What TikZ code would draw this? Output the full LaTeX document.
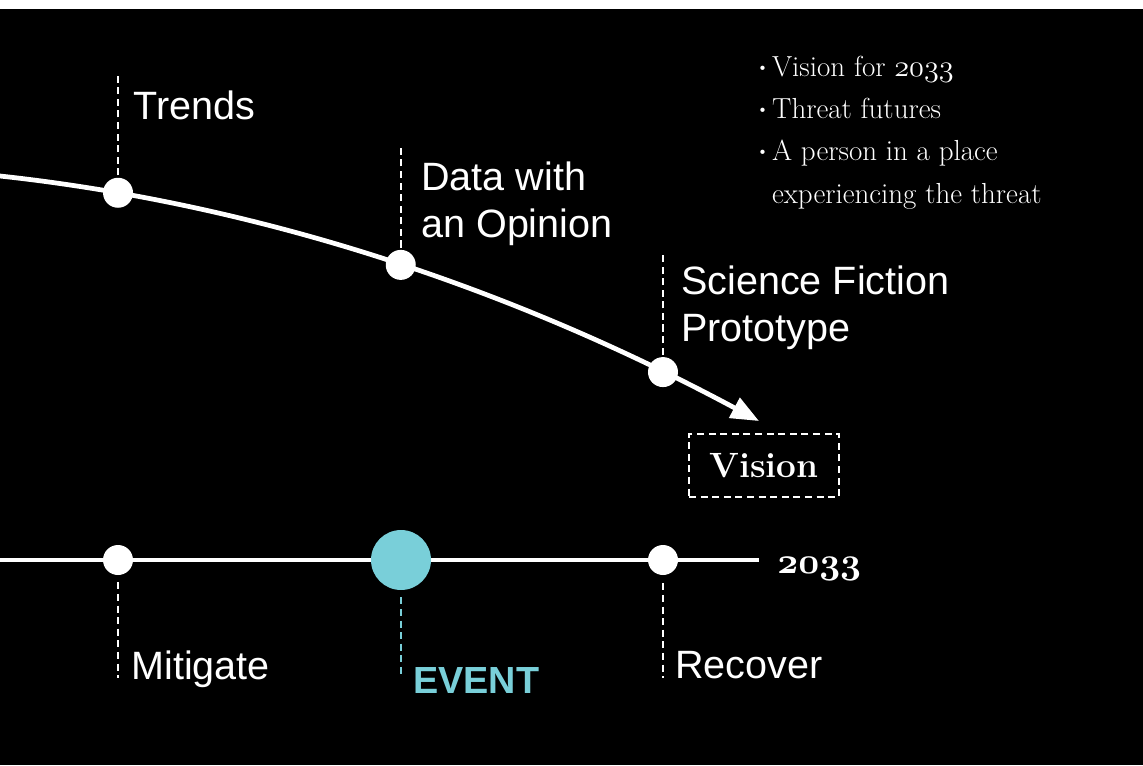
\documentclass[tikz,border=0pt]{standalone}
\usepackage{fontspec}
\newfontfamily\labelsans{Liberation Sans}
\usetikzlibrary{arrows.meta}
\definecolor{eventcyan}{HTML}{79CFD9}
% old-style figures from the math italic font
\newcommand{\osnum}[1]{{\usefont{OML}{cmm}{m}{it}#1}}
\newcommand{\osnumbold}[1]{{\usefont{OML}{cmm}{b}{it}#1}}
\newcommand{\notedot}{\raisebox{3.6pt}{\tiny$\bullet$}\kern3.6pt}

\begin{document}
\begin{tikzpicture}[x=0.02cm, y=-0.02cm,
    timeline/.style={white, line width=2.7pt},
    dot/.style={circle, fill=white, minimum size=0.6cm, inner sep=0pt},
    leader/.style={white, line width=1.4pt, dash pattern=on 4pt off 2.6pt},
    sanslabel/.style={white, anchor=base west, inner sep=0pt, align=left,
      font=\labelsans\fontsize{22.5}{26.5}\selectfont}]

    % Background and top strip
    \useasboundingbox (0,0) rectangle (1143,765);
    \fill[black] (0,0) rectangle (1143,765);
    \fill[white] (0,0) rectangle (1143,9);

    % Upper curve towards the vision
    \coordinate (curvestart) at (0,176);
    \coordinate (visiontip) at (759,421);
    \draw[timeline, -{Triangle[length=0.56cm, width=0.44cm]}]
      (curvestart) .. controls (253,203.5) and (506,285.2) .. (visiontip)
      node[dot, pos=0.1555] (trends) {}
      node[dot, pos=0.528] (data) {}
      node[dot, pos=0.8735] (scifi) {};

    \draw[leader] (trends.north) -- ++(0,-101);
    \draw[leader] (data.north) -- ++(0,-103);
    \draw[leader] (scifi.north) -- ++(0,-102);

    % base anchor sits on the last line
    \node[sanslabel] (trendslabel) at (133,119) {Trends};
    \node[sanslabel] (datalabel) at (421,237) {Data with\\an Opinion};
    \node[sanslabel] (scifilabel) at (681,341) {Science Fiction\\Prototype};

    % Vision box
    \node[draw=white, line width=1.3pt, dash pattern=on 4pt off 2.6pt,
      minimum width=3cm, minimum height=1.26cm, text=white,
      font=\bfseries\fontsize{20}{24}\selectfont] (vision) at (764,465.5) {Vision};

    % Lower timeline
    \coordinate (axisstart) at (0,560);
    \coordinate (axisend) at (759,560);
    \draw[timeline] (axisstart) -- (axisend);
    \node[dot] (mitigate) at (118,560) {};
    \node[dot, fill=eventcyan, minimum size=1.2cm] (event) at (401,560) {};
    \node[dot] (recover) at (663,560) {};
    \node[white, anchor=base west, inner sep=0pt,
      font=\fontsize{21}{24}\selectfont] (year) at (777,573) {\osnumbold{2033}};

    \draw[leader, shorten <=0.14cm] (mitigate.south) -- ++(0,103);
    \draw[leader, eventcyan, shorten <=0.14cm] (event.south) -- ++(0,87);
    \draw[leader, shorten <=0.16cm] (recover.south) -- ++(0,103);

    \node[sanslabel] (mitigatelabel) at (131,679) {Mitigate};
    \node[sanslabel, eventcyan, font=\labelsans\bfseries\fontsize{21.5}{27}\selectfont]
      (eventlabel) at (413,693) {EVENT};
    \node[sanslabel] (recoverlabel) at (675,678) {Recover};

    % Notes
    \node[white, anchor=base west, inner sep=0pt, align=left,
      font=\fontsize{16.5}{24}\selectfont] (notes) at (759,203)
      {\notedot Vision for \osnum{2033}\\
       \notedot Threat futures\\
       \notedot A person in a place\\
       \phantom{\notedot}experiencing the threat};
\end{tikzpicture}
\end{document}
